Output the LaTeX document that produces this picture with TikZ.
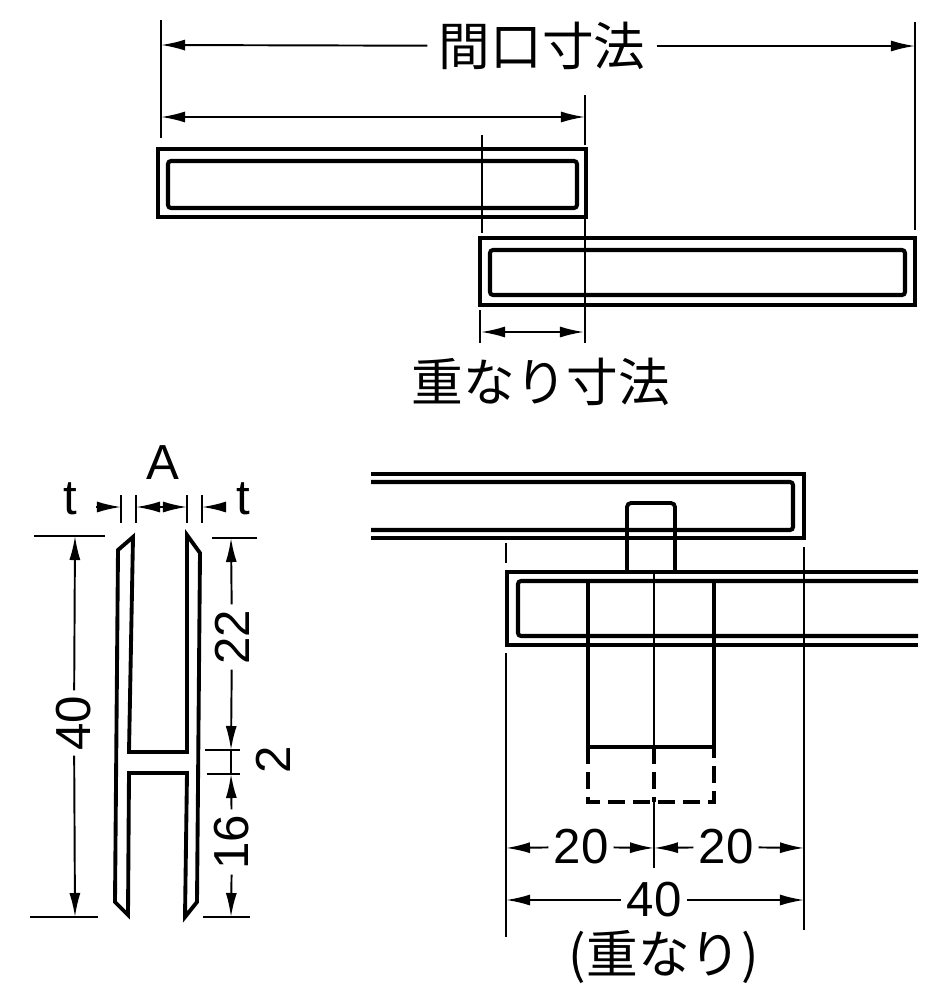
\documentclass[tikz,border=0pt]{standalone}
\usepackage{fontspec}
\setmainfont{Liberation Sans}
\newfontfamily\jpfont{Noto Sans CJK JP}
\usetikzlibrary{arrows.meta,calc,positioning}
\tikzset{%
    profile/.style={%
        line width=1.1pt, line join=miter
    },
    inner_profile/.style={%
        line width=1.15pt, rounded corners=0.03cm
    },
    ext_line/.style={%
        line width=0.7pt
    },
    dim_line/.style={%
        line width=0.55pt, -{Latex[length=0.24cm,width=0.11cm]}
    },
    dim_both/.style={%
        line width=0.55pt, {Latex[length=0.24cm,width=0.11cm]}-{Latex[length=0.24cm,width=0.11cm]}
    },
    hidden_line/.style={%
        line width=0.95pt, dash pattern=on 0.17cm off 0.08cm
    },
    num/.style={%
        font=\fontsize{14}{14}\selectfont, inner sep=0pt, outer sep=1.5pt, fill=white
    },
    jlabel/.style={%
        font=\fontsize{14.7}{14.7}\jpfont\selectfont, inner sep=0pt
    },
}
\begin{document}
\begin{tikzpicture}[x=0.01cm,y=-0.01cm]
    \useasboundingbox (0,0) rectangle (952,1000);
    % upper drawing
    \node[jlabel,inner xsep=3pt] (open) at (542,46) {間口寸法};
    \node[jlabel] (overlap) at (541,382) {重なり寸法};
    \coordinate (openL) at (161,45);
    \coordinate (openR) at (915,46);
    \coordinate (topL) at (161,117);
    \coordinate (topR) at (585,117);
    \coordinate (lapL) at (481,332);
    \coordinate (lapR) at (584,332);
    \draw[profile] (158,149) rectangle (586,217);
    \draw[inner_profile] (168,161) rectangle (577,208);
    \draw[profile] (480,238) rectangle (915,305);
    \draw[inner_profile] (490,250) rectangle (905,295);
    \draw[ext_line] (161,20) -- (161,138);
    \draw[ext_line] (915,22) -- (915,230);
    \draw[ext_line] (585,95) -- (585,145);
    \draw[ext_line] (585,217) -- (585,343);
    \draw[ext_line] (482,135) -- (482,233);
    \draw[ext_line] (480,310) -- (480,343);
    \draw[dim_line] (open) -- (openL);
    \draw[dim_line] (open) -- (openR);
    \draw[dim_both] (topL) -- (topR);
    \draw[dim_both] (lapL) -- (lapR);
    % H section
    \node[num] (A) at (163,463) {A};
    \node[num] (tL) at (70,499) {t};
    \node[num] (tR) at (243,499) {t};
    \draw[profile] (133,537) -- (118,550) -- (115,902) -- (128,915) -- (129,773) -- (187,773)
        -- (185,917) -- (197,902) -- (200,553) -- (187,535) -- (187,752) -- (129,752) -- cycle;
    \draw[ext_line] (121,495) -- (121,523);
    \draw[ext_line] (136,495) -- (136,523);
    \draw[ext_line] (187,495) -- (187,523);
    \draw[ext_line] (202,495) -- (202,523);
    \draw[ext_line] (34,536) -- (105,536);
    \draw[ext_line] (30,917) -- (98,917);
    \draw[ext_line] (212,538) -- (257,538);
    \draw[ext_line] (203,917) -- (250,917);
    \draw[ext_line] (205,750) -- (240,750);
    \draw[ext_line] (207,774) -- (240,774);
    \coordinate (tLa) at (96,507);
    \coordinate (tLb) at (121,507);
    \coordinate (Aa) at (136,507);
    \coordinate (Ab) at (187,507);
    \coordinate (tRa) at (225,507);
    \coordinate (tRb) at (202,507);
    \draw[dim_line] (tLa) -- (tLb);
    \draw[dim_both] (Aa) -- (Ab);
    \draw[dim_line] (tRa) -- (tRb);
    \node[num,rotate=90] (h40) at (74,723) {40};
    \node[num,rotate=90] (h22) at (232,637) {22};
    \node[num,rotate=90] (h16) at (232,842) {16};
    \node[num,rotate=90] (h2) at (273,760) {2};
    \coordinate (h40a) at (75,536);
    \coordinate (h40b) at (75,917);
    \coordinate (h22a) at (231,538);
    \coordinate (h22b) at (231,750);
    \coordinate (h16a) at (231,774);
    \coordinate (h16b) at (231,917);
    \draw[dim_line] (h40) -- (h40a);
    \draw[dim_line] (h40) -- (h40b);
    \draw[dim_line] (h22) -- (h22a);
    \draw[dim_line] (h22) -- (h22b);
    \draw[dim_line] (h16) -- (h16a);
    \draw[dim_line] (h16) -- (h16b);
    \draw[ext_line] (h22b) -- (h16a);
    % joint
    \draw[profile] (371,474) -- (804,474) -- (804,538) -- (371,538);
    \draw[inner_profile] (371,482) -- (793,482) -- (793,530) -- (371,530);
    \draw[profile] (918,572) -- (507,572) -- (507,645) -- (918,645);
    \draw[inner_profile] (918,581) -- (518,581) -- (518,636) -- (918,636);
    \draw[profile,rounded corners=0.04cm] (627,572) -- (627,503) -- (675,503) -- (675,572);
    \draw[profile] (588,581) -- (588,747) -- (714,747) -- (714,581);
    \draw[hidden_line] (588,747) -- (588,802) -- (714,802) -- (714,747);
    \draw[ext_line] (654,572) -- (654,747);
    \draw[hidden_line] (654,747) -- (654,802);
    \draw[ext_line] (654,802) -- (654,868);
    \draw[ext_line] (506,543) -- (506,563);
    \draw[ext_line] (506,653) -- (506,937);
    \draw[ext_line] (804,547) -- (804,930);
    \node[num] (lapA) at (581,847) {20};
    \node[num] (lapB) at (726,847) {20};
    \node[num] (lapC) at (654,900) {40};
    \node[jlabel] (lapNote) at (664,957) {(重なり)};
    \coordinate (jL) at (506,848);
    \coordinate (jM) at (654,848);
    \coordinate (jR) at (804,848);
    \coordinate (kL) at (506,900);
    \coordinate (kR) at (804,900);
    \draw[dim_line] (lapA) -- (jL);
    \draw[dim_line] (lapA) -- (jM);
    \draw[dim_line] (lapB) -- (jM);
    \draw[dim_line] (lapB) -- (jR);
    \draw[dim_line] (lapC) -- (kL);
    \draw[dim_line] (lapC) -- (kR);
\end{tikzpicture}
\end{document}
